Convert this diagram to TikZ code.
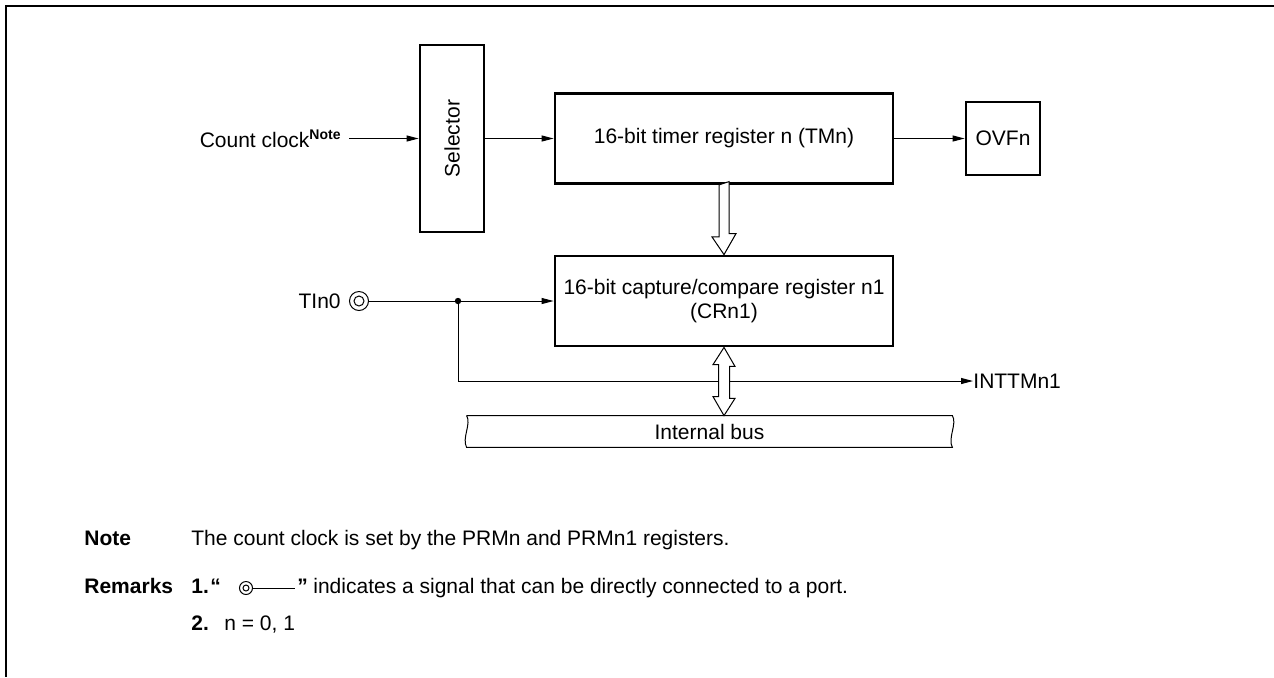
\documentclass[tikz,border=0pt]{standalone}
\usepackage{fontspec}
\setmainfont{Liberation Sans}
\usetikzlibrary{arrows.meta}
\tikzset{
  blockbox/.style={draw, line width=1.4pt, inner sep=0pt, align=center},
  sig/.style={line width=0.5pt, -{Triangle[length=6pt,width=3pt]}},
  wire/.style={line width=0.5pt},
  hollow/.style={draw, fill=white, line width=0.5pt, line join=miter},
  port/.style={circle, draw, line width=0.5pt, inner sep=0pt, minimum size=9.5pt},
  txt/.style={anchor=base west, inner sep=0pt},
  boldtxt/.style={txt, font=\fontsize{10.5}{12}\selectfont\bfseries}
}

\begin{document}
\begin{tikzpicture}[x=0.5pt,y=-0.5pt,font=\fontsize{10.5}{12}\selectfont]
\useasboundingbox (0,0) rectangle (1274,677);
\draw[line width=1.25pt] (1274,6) -- (6,6) -- (6,677);
\node[blockbox, rotate=90, minimum width=93.5pt, minimum height=32pt] (sel) at (452,138.5) {Selector};
\node[blockbox, minimum width=169pt, minimum height=45pt] (tm) at (724,138.5) {16-bit timer register n (TMn)};
\node[blockbox, minimum width=37pt, minimum height=36.5pt] (ovf) at (1003,138.5) {OVFn};
\node[blockbox, minimum width=169pt, minimum height=45pt] (cr) at (724,301) {16-bit capture/compare register n1\\(CRn1)};
\node[inner sep=0pt, minimum width=242.5pt, minimum height=15.5pt] (bus) at (709.5,431.5) {Internal bus};
\draw[wire] (bus.north west) -- (bus.north east) .. controls +(5,8) and +(-5,-9) .. (bus.south east) -- (bus.south west) .. controls +(-5,-9) and +(5,8) .. (bus.north west);
\coordinate (cc) at (349,138.5);
\node[anchor=east, inner sep=0pt] (cclab) at (342,138.5) {Count clock\textsuperscript{\bfseries\scriptsize Note}};
\draw[sig] (cc) -- (sel);
\draw[sig] (sel) -- (tm);
\draw[sig] (tm) -- (ovf);
\node[port] (tin) at (359,301) {};
\draw[wire] (tin.center) circle (5);
\node[anchor=east, inner sep=0pt] (tinlab) at (341,301) {TIn0};
\coordinate (br) at (458,301);
\draw[sig] (tin) -- (cr);
\fill (br) circle (3.2);
\node[anchor=west, inner sep=0pt] (int) at (973,381) {INTTMn1};
\draw[sig] (br) |- (int.west);
\draw[hollow] (tm.south) ++(-5,0) -- ++(0,52) -- ++(-7,0) -- (cr.north) -- ++(12,-21) -- ++(-7,0) -- ++(0,-52) -- cycle;
\draw[hollow] (cr.south) -- ++(11,19) -- ++(-5.5,0) -- ++(0,32) -- ++(5.5,0) -- (cr.south |- bus.north) -- ++(-11,-19) -- ++(5.5,0) -- ++(0,-32) -- ++(-5.5,0) -- cycle;
\node[boldtxt] (notehd) at (84,545) {Note};
\node[txt] (notetxt) at (191,545) {The count clock is set by the PRMn and PRMn1 registers.};
\node[boldtxt] (remhd) at (84,593) {Remarks};
\node[boldtxt] (rem1) at (191,593) {1.};
\node[boldtxt] (qopen) at (210,593) {“};
\node[port, minimum size=6.5pt] (rport) at (246,588) {};
\draw[wire] (rport.center) circle (3);
\coordinate (rend) at (295,588);
\draw[wire] (rport) -- (rend);
\node[boldtxt] (qclose) at (297,593) {”};
\node[txt] (rem1txt) at (313,593) {indicates a signal that can be directly connected to a port.};
\node[boldtxt] (rem2) at (191,630) {2.};
\node[txt] (rem2txt) at (224,630) {n = 0, 1};
\end{tikzpicture}
\end{document}
